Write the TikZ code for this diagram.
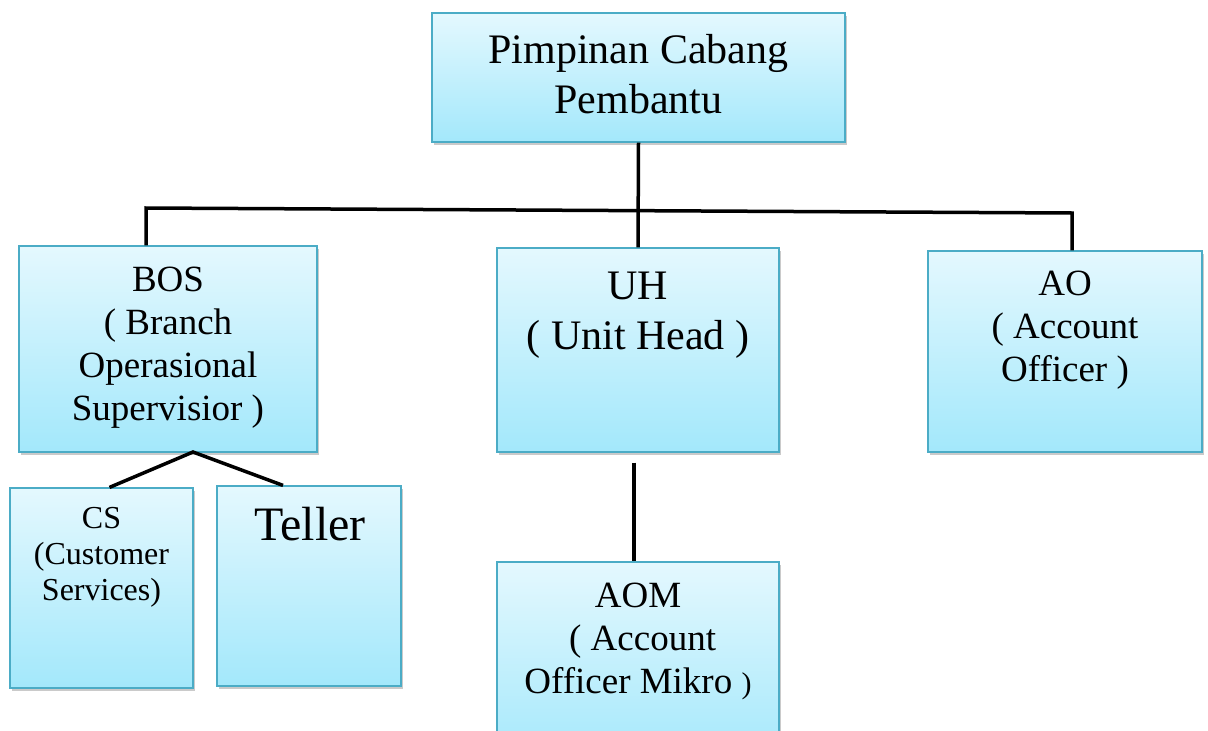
\documentclass[tikz,border=0pt]{standalone}
\usepackage{fontspec}
\setmainfont{Liberation Serif}
\usetikzlibrary{shadows}
\definecolor{boxline}{HTML}{4BACC6}
\definecolor{boxtop}{HTML}{E4F8FE}
\definecolor{boxbot}{HTML}{A3E8FB}
\tikzset{
  unit/.style={draw=boxline, line width=1.2pt, top color=boxtop, bottom color=boxbot,
    drop shadow={shadow xshift=2pt, shadow yshift=-3pt, fill=black!60, opacity=.35}, inner sep=0pt},
  lbl/.style={align=center, inner sep=0pt, anchor=base},
  link/.style={line width=3.5pt, black}
}
\begin{document}
\begin{tikzpicture}[x=1pt,y=-1pt]
  \useasboundingbox (0,0) rectangle (1208,731);
  % boxes: name/x/y/width/height
  \foreach \n/\x/\y/\w/\h in {pc/638.5/77.5/413/129, bos/168/349/298/206, uh/638/350/282/204,
      ao/1065/351.5/274/201, cs/101.5/588/183/200, tel/309/586/184/200, aom/638/664/282/204}{
    \node[unit, minimum width=\w pt, minimum height=\h pt](\n) at (\x,\y){};
  }
  % texts (placed at the baseline of their last line)
  \node[lbl, font=\fontsize{42}{50}\selectfont](pct) at (638.5,113){Pimpinan Cabang\\Pembantu};
  \node[lbl, font=\fontsize{37}{43}\selectfont](bost) at (168,420){BOS\\( Branch\\Operasional\\Supervisior )};
  \node[lbl, font=\fontsize{42}{50}\selectfont](uht) at (638,349){UH\\( Unit Head )};
  \node[lbl, font=\fontsize{37}{43}\selectfont](aot) at (1065,381){AO\\( Account\\Officer )};
  \node[lbl, font=\fontsize{32}{36}\selectfont](cst) at (101.5,600){CS\\(Customer\\Services)};
  \node[lbl, font=\fontsize{48}{58}\selectfont](telt) at (310,540){Teller};
  \node[lbl, font=\fontsize{37}{43}\selectfont](aomt) at (638,693){AOM\\~( Account\\Officer Mikro {\fontsize{30}{43}\selectfont )}};
  % connectors
  \coordinate (jl) at (146,208);
  \coordinate (jr) at (1072,213);
  \coordinate (bj) at (193,452);
  \draw[link] (pc.south) -- (uh.north);
  \draw[link] (jl |- bos.north) -- (jl) -- (jr) -- (jr |- ao.north);
  \draw[link] ([xshift=8pt]cs.north) -- (bj) -- ([xshift=-26pt]tel.north);
  \draw[link] ([xshift=-4pt,yshift=-10pt]uh.south) -- ([xshift=-4pt]aom.north);
\end{tikzpicture}
\end{document}
